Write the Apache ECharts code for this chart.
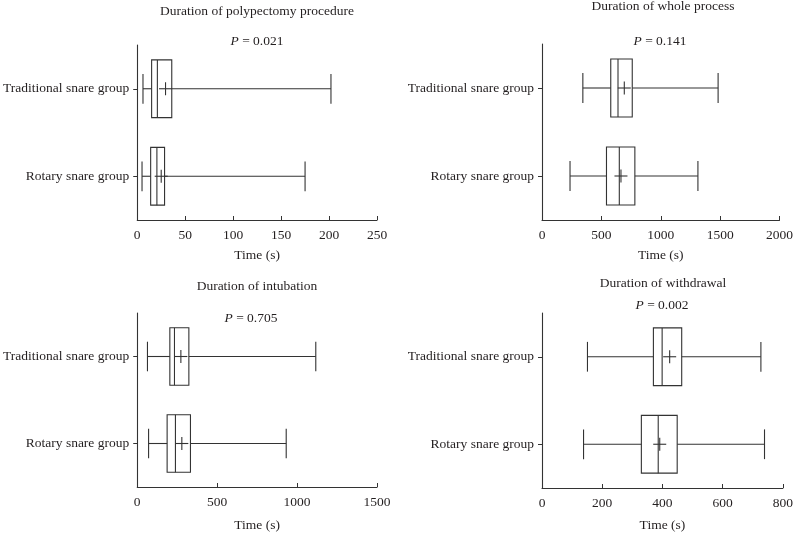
<!DOCTYPE html>
<html>
<head>
<meta charset="utf-8">
<script src="https://cdn.jsdelivr.net/npm/echarts@6/dist/echarts.min.js"></script>
<style>html,body{margin:0;padding:0;background:#fff}#c{width:796px;height:533px}</style>
</head>
<body>
<div id="c"></div>
<script>
// Categories (top to bottom)
const categories = ['Traditional snare group', 'Rotary snare group'];
// Each row: [min, Q1, median, Q3, max, mean]
const polypectomy = [[6, 15, 21, 36, 202, 29.5], [5, 14, 20.5, 28.5, 175, 25]];
const wholeProcess = [[344, 579, 640, 760, 1483, 693], [236, 543, 651, 782, 1313, 665]];
const intubation = [[64, 204, 233, 323, 1117, 273], [71, 187, 239, 333, 932, 279]];
const withdrawal = [[151, 370, 399, 464, 727, 424], [138, 330, 386, 449, 739, 391]];
const panelTitles = ['Duration of polypectomy procedure', 'Duration of whole process', 'Duration of intubation', 'Duration of withdrawal'];
const pValues = ['0.021', '0.141', '0.705', '0.002'];
const xMax = [250, 2000, 1500, 800];
const xInterval = [50, 500, 500, 200];
const axisName = 'Time (s)';

const panels = [polypectomy, wholeProcess, intubation, withdrawal];
const FONT = '"Liberation Serif", "DejaVu Serif", serif';
const FS = 13.5;
const TXT = '#231f20';
const LINE = '#333333';

const grids = [
  {left: 137, top: 45, width: 240, height: 175},
  {left: 542, top: 44, width: 241, height: 176},
  {left: 137, top: 313, width: 240, height: 174},
  {left: 542, top: 313, width: 241, height: 175}
];
const nameGaps = [28, 28, 31, 30];
const titlePos = [[257, 11], [663, 6], [257, 286], [663, 283]];
const pPos = [[257, 41], [660, 41], [251, 318], [662, 305]];

function renderBox(params, api) {
  const cat = api.value(0);
  const v = [1, 2, 3, 4, 5, 6].map(i => api.value(i));
  const band = api.size([0, 1])[1];
  const h = band * 0.66, hc = band * 0.34, hm = 13;
  const y = api.coord([0, cat])[1];
  const X = val => api.coord([val, cat])[0];
  const st = {stroke: LINE, lineWidth: 1.1, fill: null};
  const line = (x1, y1, x2, y2) => ({type: 'line', shape: {x1, y1, x2, y2}, style: st});
  return {
    type: 'group',
    children: [
      line(X(v[0]), y, X(v[1]), y),
      line(X(v[3]), y, X(v[4]), y),
      line(X(v[0]), y - hc / 2, X(v[0]), y + hc / 2),
      line(X(v[4]), y - hc / 2, X(v[4]), y + hc / 2),
      {type: 'rect', shape: {x: X(v[1]), y: y - h / 2, width: X(v[3]) - X(v[1]), height: h}, style: st},
      line(X(v[2]), y - h / 2, X(v[2]), y + h / 2),
      line(X(v[5]) - hm / 2, y, X(v[5]) + hm / 2, y),
      line(X(v[5]), y - hm / 2, X(v[5]), y + hm / 2)
    ]
  };
}

const option = {
  backgroundColor: '#fff',
  animation: false,
  grid: grids,
  xAxis: grids.map((g, i) => ({
    type: 'value', gridIndex: i, min: 0, max: xMax[i], interval: xInterval[i],
    splitLine: {show: false},
    axisLine: {show: true, lineStyle: {color: LINE, width: 1.1}},
    axisTick: {show: true, inside: true, length: 4, lineStyle: {color: LINE}},
    axisLabel: {color: TXT, fontFamily: FONT, fontSize: FS, margin: 8, formatter: v => String(v)},
    name: axisName, nameLocation: 'middle', nameGap: nameGaps[i],
    nameTextStyle: {color: TXT, fontFamily: FONT, fontSize: FS}
  })),
  yAxis: grids.map((g, i) => ({
    type: 'category', gridIndex: i, data: categories, inverse: true,
    axisLine: {show: true, lineStyle: {color: LINE, width: 1.1}},
    axisTick: {show: true, alignWithLabel: true, length: 4, lineStyle: {color: LINE}},
    axisLabel: {color: TXT, fontFamily: FONT, fontSize: FS, margin: 8}
  })),
  series: panels.map((d, i) => ({
    type: 'custom', xAxisIndex: i, yAxisIndex: i,
    renderItem: renderBox,
    encode: {x: [1, 2, 3, 4, 5, 6], y: 0},
    data: d.map((r, k) => [k].concat(r))
  })),
  graphic: [].concat(
    panelTitles.map((t, i) => ({
      type: 'text', x: titlePos[i][0], y: titlePos[i][1],
      style: {text: t, fill: TXT, font: FS + 'px ' + FONT, textAlign: 'center', textVerticalAlign: 'middle'}
    })),
    pValues.map((p, i) => ({
      type: 'text', x: pPos[i][0], y: pPos[i][1],
      style: {
        text: '{i|P} = ' + p, fill: TXT, font: FS + 'px ' + FONT, textAlign: 'center', textVerticalAlign: 'middle',
        rich: {i: {fontStyle: 'italic', fontFamily: FONT, fontSize: FS, fill: TXT}}
      }
    }))
  )
};
echarts.init(document.getElementById('c'), null, {renderer: 'canvas'}).setOption(option);
</script>
</body>
</html>
